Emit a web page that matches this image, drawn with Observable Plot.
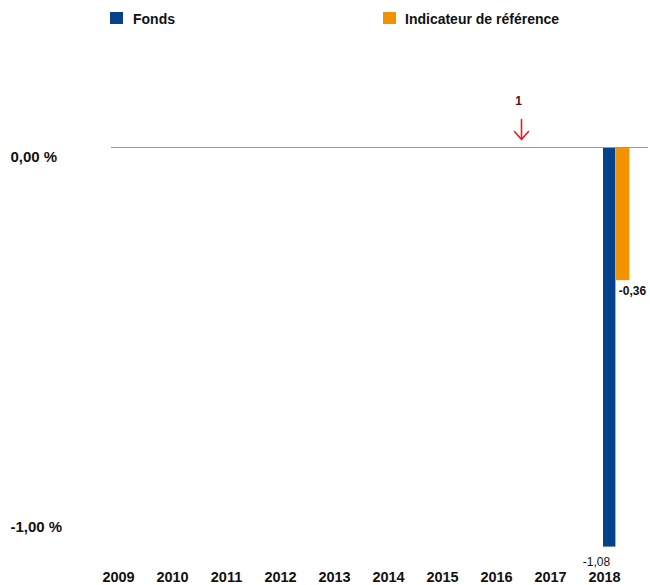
<!DOCTYPE html>
<html>
<head>
<meta charset="utf-8">
<script src="https://cdn.jsdelivr.net/npm/d3@7"></script>
<script src="https://cdn.jsdelivr.net/npm/@observablehq/plot@0.6"></script>
<style>
  body { margin: 0; background: #fff; }
  #wrap { width: 650px; font-family: "Liberation Sans", Arial, sans-serif; color: #111; }
  #legend { position: relative; height: 40px; font-weight: bold; font-size: 14px; line-height: 16px; }
  #legend .sw { position: absolute; top: 12px; width: 13px; height: 12px; }
  #legend .lb { position: absolute; top: 11px; white-space: nowrap; }
</style>
</head>
<body>
<div id="wrap">
  <div id="legend"></div>
  <div id="chart"></div>
</div>
<script>
const years = ["2009","2010","2011","2012","2013","2014","2015","2016","2017","2018"];
const fonds = [null, null, null, null, null, null, null, null, null, -1.08];
const indicateur = [null, null, null, null, null, null, null, null, null, -0.36];
const seriesNames = ["Fonds", "Indicateur de référence"];
const seriesColors = ["#06428b", "#f39200"];
const yTicks = [0, -1];
const annotations = [{year: "2016", label: "1"}];

const fondsRows = years.map((year, i) => ({year, value: fonds[i]})).filter(d => d.value != null);
const indRows = years.map((year, i) => ({year, value: indicateur[i]})).filter(d => d.value != null);

const fmtNum = v => v.toFixed(2).replace(".", ",");
const fmtPct = v => fmtNum(v) + " %";

// legend
const legend = document.getElementById("legend");
const legendPos = [[110, 133], [383, 405]];
seriesNames.forEach((name, i) => {
  const sw = document.createElement("span");
  sw.className = "sw";
  sw.style.left = legendPos[i][0] + "px";
  sw.style.background = seriesColors[i];
  legend.appendChild(sw);
  const lb = document.createElement("span");
  lb.className = "lb";
  lb.style.left = legendPos[i][1] + "px";
  lb.textContent = name;
  legend.appendChild(lb);
});

// open arrow with a wider head
const wideArrow = {
  draw(context, l) {
    context.moveTo(0, 0);
    context.lineTo(0, -l);
    context.moveTo(-7, 8 - l);
    context.lineTo(0, -l);
    context.lineTo(7, 8 - l);
  }
};

const chart = Plot.plot({
  width: 650,
  height: 545,
  marginLeft: 111,
  marginRight: 2,
  marginTop: 0,
  marginBottom: 14,
  style: {fontFamily: "Liberation Sans, Arial, sans-serif", color: "#111", background: "#fff"},
  x: {type: "band", domain: years, range: [87.5, 633.5], padding: 0, axis: null, label: null},
  y: {domain: [0, -1], range: [107, 477], axis: null, label: null},
  marks: [
    Plot.barY(fondsRows, {x: "year", y: "value", fill: seriesColors[0], insetLeft: 26, insetRight: 15.6}),
    Plot.barY(indRows, {x: "year", y: "value", fill: seriesColors[1], insetLeft: 39, insetRight: 1.6}),
    Plot.ruleY([0], {stroke: "#999", strokeWidth: 1}),
    Plot.text(fondsRows, {x: "year", y: "value", text: d => fmtNum(d.value), dx: -8, dy: 15, fontSize: 12, fill: "#111"}),
    Plot.text(indRows, {x: "year", y: "value", text: d => fmtNum(d.value), dx: 28, dy: 10, fontSize: 12, fontWeight: "bold", fill: "#111"}),
    Plot.axisX({tickSize: 0, tickPadding: 0, fontSize: 14.5, fontWeight: "bold", fill: "#111", label: null}),
    Plot.axisY({ticks: yTicks, tickSize: 0, tickPadding: 0, textAnchor: "start", dx: -101, dy: 10, tickFormat: fmtPct, fontSize: 15, fontWeight: "bold", fill: "#111", label: null}),
    Plot.text(annotations, {x: "year", y: 0, text: "label", dx: 22, dy: -46, fontSize: 12, fontWeight: "bold", fill: "#5a1010"}),
    Plot.vector(annotations, {x: "year", y: 0, dx: 25, dy: -8, length: 20, rotate: 180, anchor: "end", stroke: "#ee1c1c", strokeWidth: 1.6, shape: wideArrow})
  ]
});
document.getElementById("chart").appendChild(chart);
</script>
</body>
</html>
